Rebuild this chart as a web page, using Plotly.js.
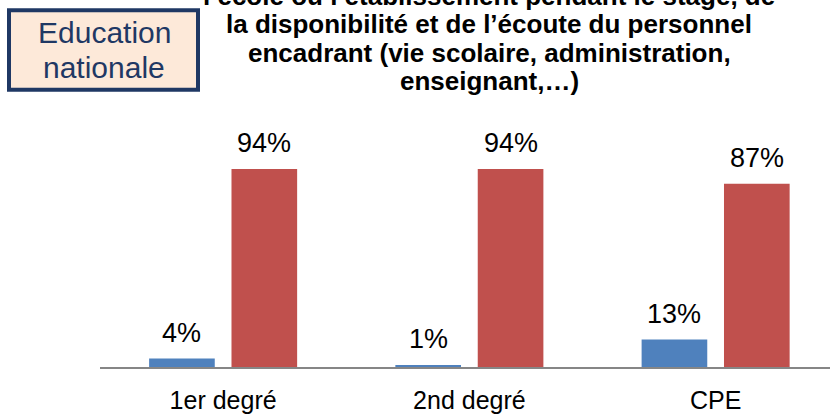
<!DOCTYPE html>
<html>
<head>
<meta charset="utf-8">
<script src="https://cdn.plot.ly/plotly-3.0.1.min.js"></script>
<style>html,body{margin:0;padding:0;background:#fff;}#chart{width:830px;height:414px;}</style>
</head>
<body>
<div id="chart"></div>
<script>
// ---- data ----
const categories = ['1er degré', '2nd degré', 'CPE'];
const valuesBlue = [4, 1, 13];
const valuesRed = [94, 94, 87];
const titleLines = [
  'l’école ou l’établissement pendant le stage, de',
  'la disponibilité et de l’écoute du personnel',
  'encadrant (vie scolaire, administration,',
  'enseignant,…)'
];
const badgeLines = ['Education', 'nationale'];

// ---- layout geometry ----
const W = 830, Hh = 414;
const M = {l: 100, r: 0, t: 120, b: 47};
const plotW = W - M.l - M.r, plotH = Hh - M.t - M.b;
const px2x = p => (p - M.l) / plotW;
const px2y = p => (Hh - M.b - p) / plotH;
const FONT = 'Liberation Sans, Arial, sans-serif';
const BLUE = '#4F81BD', RED = '#C0504D', NAVY = '#1F3864';

const traces = [
  {type: 'bar', name: 'Non', x: categories, y: valuesBlue, marker: {color: BLUE}, hoverinfo: 'skip', showlegend: false},
  {type: 'bar', name: 'Oui', x: categories, y: valuesRed, marker: {color: RED}, hoverinfo: 'skip', showlegend: false}
];

const annotations = [];
// value labels
[[valuesBlue, -41.2], [valuesRed, 41.2]].forEach(([vals, dx]) => {
  vals.forEach((v, i) => {
    annotations.push({
      xref: 'x', yref: 'y', x: categories[i], y: v, text: v + '%',
      showarrow: false, xshift: dx, yshift: 26, yanchor: 'middle', xanchor: 'center',
      font: {family: FONT, size: 27, color: '#000'}
    });
  });
});
// title lines
const titleCenters = [-4, 24.3, 52.7, 81];
titleLines.forEach((t, i) => {
  annotations.push({
    xref: 'paper', yref: 'paper', x: px2x(489), y: px2y(titleCenters[i]),
    text: '<b>' + t + '</b>', showarrow: false, xanchor: 'center', yanchor: 'middle',
    font: {family: FONT, size: 26, color: '#000'}
  });
});
// badge lines
const badgeCenters = [32.9, 67.9];
badgeLines.forEach((t, i) => {
  annotations.push({
    xref: 'paper', yref: 'paper', x: px2x(104), y: px2y(badgeCenters[i]),
    text: t, showarrow: false, xanchor: 'center', yanchor: 'middle',
    font: {family: FONT, size: 30, color: NAVY}
  });
});

const layout = {
  width: W, height: Hh,
  margin: M,
  paper_bgcolor: '#fff', plot_bgcolor: '#fff',
  barmode: 'group', bargap: 0.331, bargroupgap: 0.203,
  showlegend: false,
  xaxis: {
    type: 'category', range: [-0.5, plotW / 246.25 - 0.5],
    showline: true, linecolor: '#868686', linewidth: 2,
    showgrid: false, zeroline: false, ticks: '', ticklabelstandoff: 10,
    tickfont: {family: FONT, size: 25, color: '#000'}, fixedrange: true
  },
  yaxis: {visible: false, range: [0, 117.26], showgrid: false, zeroline: false, fixedrange: true},
  shapes: [{
    type: 'rect', xref: 'paper', yref: 'paper',
    x0: px2x(9), x1: px2x(198), y0: px2y(89.7), y1: px2y(10.3),
    fillcolor: '#FDE9D9', line: {color: NAVY, width: 4}, layer: 'above'
  }],
  annotations: annotations
};

Plotly.newPlot('chart', traces, layout, {staticPlot: true, displayModeBar: false});
</script>
</body>
</html>
